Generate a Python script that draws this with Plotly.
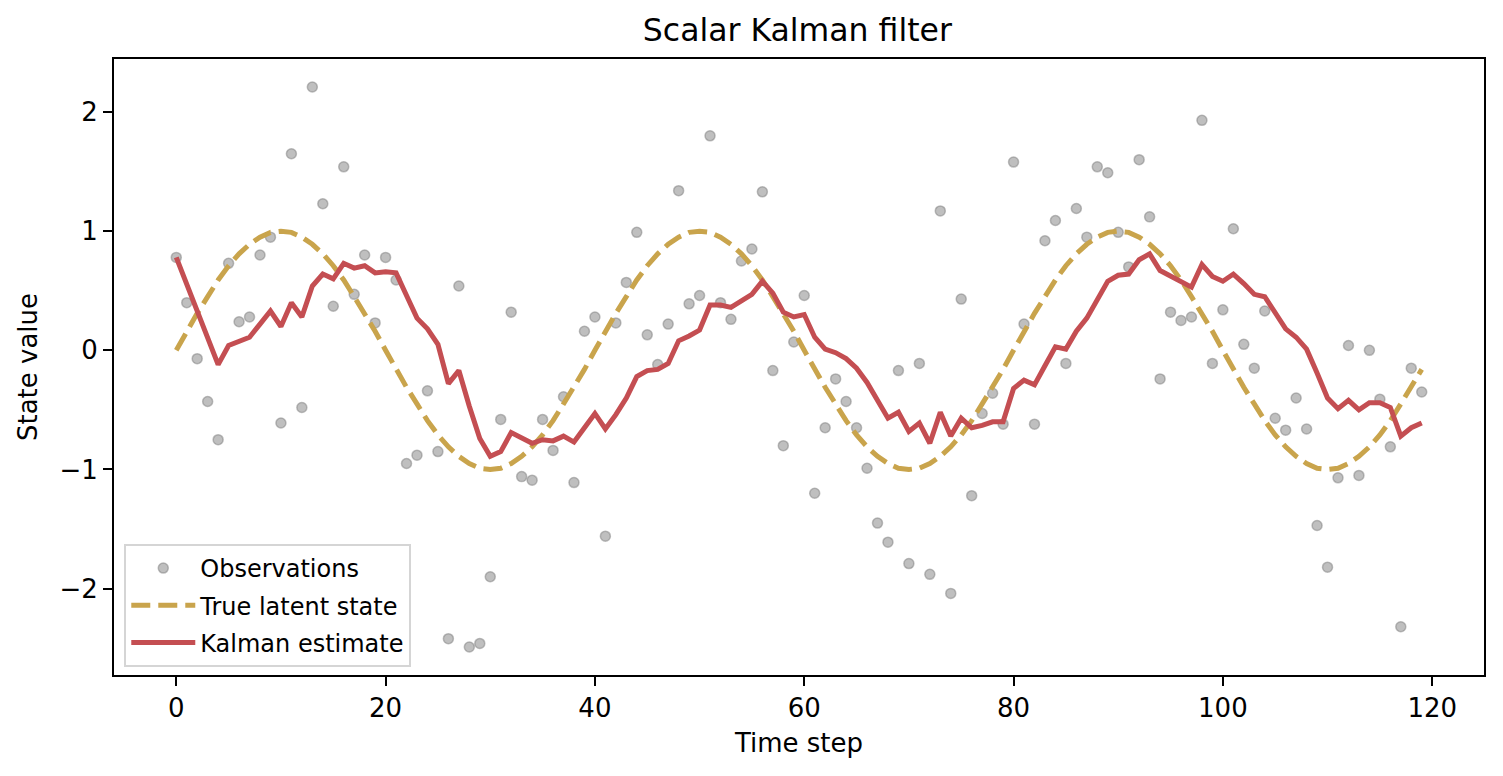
import plotly.graph_objects as go

# time axis and the three series
time_step = list(range(120))

observations = [
    0.78, 0.40, -0.07, -0.43, -0.75, 0.73, 0.24, 0.28, 0.80, 0.95,
    -0.61, 1.65, -0.48, 2.21, 1.23, 0.37, 1.54, 0.47, 0.80, 0.23,
    0.78, 0.59, -0.95, -0.88, -0.34, -0.85, -2.42, 0.54, -2.49, -2.46,
    -1.90, -0.58, 0.32, -1.06, -1.09, -0.58, -0.84, -0.39, -1.11, 0.16,
    0.28, -1.56, 0.23, 0.57, 0.99, 0.13, -0.12, 0.22, 1.34, 0.39,
    0.46, 1.80, 0.40, 0.26, 0.75, 0.85, 1.33, -0.17, -0.80, 0.07,
    0.46, -1.20, -0.65, -0.24, -0.43, -0.65, -0.99, -1.45, -1.61, -0.17,
    -1.79, -0.11, -1.88, 1.17, -2.04, 0.43, -1.22, -0.53, -0.36, -0.62,
    1.58, 0.22, -0.62, 0.92, 1.09, -0.11, 1.19, 0.95, 1.54, 1.49,
    0.99, 0.70, 1.60, 1.12, -0.24, 0.32, 0.25, 0.28, 1.93, -0.11,
    0.34, 1.02, 0.05, -0.15, 0.33, -0.57, -0.67, -0.40, -0.66, -1.47,
    -1.82, -1.07, 0.04, -1.05, 0.00, -0.41, -0.81, -2.32, -0.15, -0.35,
]

true_state = [
    0.00, 0.16, 0.31, 0.45, 0.59, 0.71, 0.81, 0.89, 0.95, 0.99,
    1.00, 0.99, 0.95, 0.89, 0.81, 0.71, 0.59, 0.45, 0.31, 0.16,
    0.00, -0.16, -0.31, -0.45, -0.59, -0.71, -0.81, -0.89, -0.95, -0.99,
    -1.00, -0.99, -0.95, -0.89, -0.81, -0.71, -0.59, -0.45, -0.31, -0.16,
    0.00, 0.16, 0.31, 0.45, 0.59, 0.71, 0.81, 0.89, 0.95, 0.99,
    1.00, 0.99, 0.95, 0.89, 0.81, 0.71, 0.59, 0.45, 0.31, 0.16,
    0.00, -0.16, -0.31, -0.45, -0.59, -0.71, -0.81, -0.89, -0.95, -0.99,
    -1.00, -0.99, -0.95, -0.89, -0.81, -0.71, -0.59, -0.45, -0.31, -0.16,
    0.00, 0.16, 0.31, 0.45, 0.59, 0.71, 0.81, 0.89, 0.95, 0.99,
    1.00, 0.99, 0.95, 0.89, 0.81, 0.71, 0.59, 0.45, 0.31, 0.16,
    0.00, -0.16, -0.31, -0.45, -0.59, -0.71, -0.81, -0.89, -0.95, -0.99,
    -1.00, -0.99, -0.95, -0.89, -0.81, -0.71, -0.59, -0.45, -0.31, -0.16,
]

kalman_estimate = [
    0.78, 0.55, 0.32, 0.10, -0.12, 0.04, 0.08, 0.11, 0.22, 0.33,
    0.20, 0.40, 0.28, 0.54, 0.64, 0.60, 0.73, 0.69, 0.71, 0.65,
    0.66, 0.65, 0.46, 0.27, 0.18, 0.05, -0.28, -0.17, -0.47, -0.74,
    -0.89, -0.85, -0.69, -0.74, -0.78, -0.75, -0.76, -0.72, -0.77, -0.65,
    -0.53, -0.66, -0.54, -0.40, -0.22, -0.17, -0.16, -0.11, 0.08, 0.12,
    0.17, 0.38, 0.38, 0.36, 0.42, 0.47, 0.58, 0.48, 0.32, 0.28,
    0.30, 0.11, 0.01, -0.02, -0.07, -0.15, -0.27, -0.42, -0.57, -0.52,
    -0.68, -0.61, -0.78, -0.52, -0.72, -0.57, -0.65, -0.63, -0.60, -0.60,
    -0.32, -0.25, -0.29, -0.13, 0.03, 0.01, 0.16, 0.27, 0.43, 0.58,
    0.63, 0.64, 0.76, 0.81, 0.67, 0.62, 0.57, 0.53, 0.72, 0.62,
    0.58, 0.64, 0.56, 0.47, 0.45, 0.31, 0.18, 0.11, 0.01, -0.19,
    -0.40, -0.49, -0.42, -0.50, -0.44, -0.44, -0.48, -0.72, -0.65, -0.61,
]

x_ticks = [0, 20, 40, 60, 80, 100, 120]
y_ticks = [-2, -1, 0, 1, 2]
y_tick_labels = ["\u22122", "\u22121", "0", "1", "2"]

font = "DejaVu Sans"

fig = go.Figure()

fig.add_trace(go.Scatter(
    x=time_step, y=observations, mode="markers", name="Observations",
    legendgroup="obs",
    marker=dict(size=10, color="rgba(128,128,128,0.5)",
                line=dict(color="rgba(128,128,128,0.5)", width=1.5)),
))
fig.add_trace(go.Scatter(
    x=time_step, y=true_state, mode="lines", name="True latent state",
    legendgroup="true",
    line=dict(color="#C9A44C", width=5, dash="19px,8px"),
))
fig.add_trace(go.Scatter(
    x=time_step, y=kalman_estimate, mode="lines", name="Kalman estimate",
    legendgroup="kf",
    line=dict(color="#C44E52", width=5),
))

axis_style = dict(
    showgrid=False, zeroline=False, showline=True, mirror=True,
    linecolor="black", linewidth=2, ticks="outside", ticklen=9,
    tickwidth=2, tickcolor="black",
    tickfont=dict(family=font, size=26, color="black"),
)

# page body has an 8px margin, so the figure is drawn 8px smaller
fig.update_layout(
    width=1495, height=768,
    margin=dict(l=106, r=19, t=51, b=101),
    paper_bgcolor="white", plot_bgcolor="white",
    font=dict(family=font, color="black"),
    title=dict(text="Scalar Kalman filter", x=0.528, xanchor="center",
               y=1 - 22 / 768, yref="container", yanchor="middle",
               font=dict(family=font, size=31.5, color="black")),
    xaxis=dict(axis_style, range=[-5.95, 124.95], tickvals=x_ticks,
               title=dict(text="Time step", standoff=12,
                          font=dict(family=font, size=26, color="black"))),
    yaxis=dict(axis_style, range=[-2.725, 2.445], tickvals=y_ticks,
               ticktext=y_tick_labels,
               title=dict(text="State value", standoff=14,
                          font=dict(family=font, size=26, color="black"))),
    legend=dict(x=0.0075, y=0.013, xanchor="left", yanchor="bottom",
                bgcolor="rgba(255,255,255,0.8)", bordercolor="#D5D5D5",
                borderwidth=2, itemwidth=64, tracegroupgap=3,
                font=dict(family=font, size=24, color="black")),
)

fig.write_html("out.html")
